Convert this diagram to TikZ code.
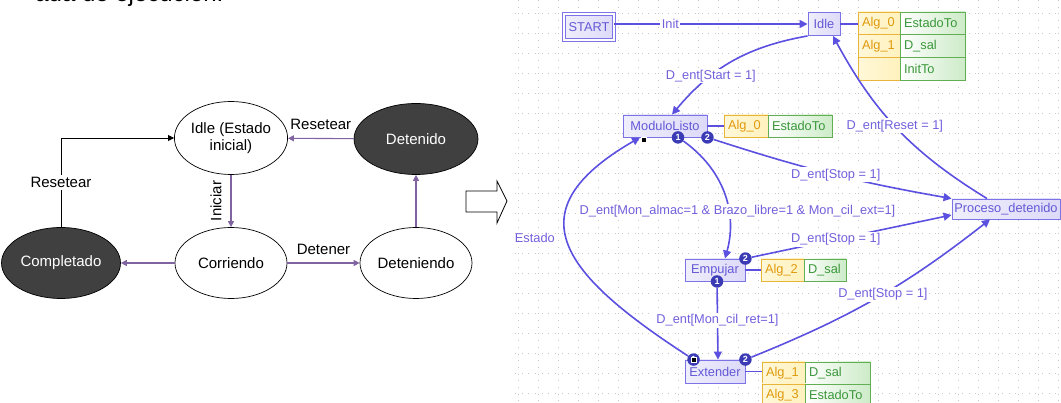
\documentclass[tikz,border=0pt]{standalone}
\usepackage{fontspec}
\setmainfont{Liberation Sans}
\usetikzlibrary{shapes.geometric,arrows.meta,positioning}

\definecolor{purp}{HTML}{8064A2}
\definecolor{darkst}{HTML}{404040}
\definecolor{stline}{HTML}{7C74E6}
\definecolor{stfill}{HTML}{DCDAF8}
\definecolor{sttext}{HTML}{6558D6}
\definecolor{trline}{HTML}{5B50E0}
\definecolor{lbtext}{HTML}{7260DC}
\definecolor{ylline}{HTML}{E8B53A}
\definecolor{ylfill}{HTML}{FFF2BE}
\definecolor{yltext}{HTML}{E09A0C}
\definecolor{gcline}{HTML}{62AE52}
\definecolor{gcfill}{HTML}{CDEBC8}
\definecolor{gctext}{HTML}{3B983B}
\definecolor{bdfill}{HTML}{3B3BB5}
\definecolor{gridc}{HTML}{C8C8C8}

\begin{document}
\begin{tikzpicture}[%
    x=1pt, y=1pt,               % one unit is one pixel of the screenshot
    node distance=0pt,          % table cells sit flush against each other
    ]
% -------------------------------------------------
% Styles
\tikzset{
  % left: state chart
  ell/.style={draw, ellipse, line width=0.7pt, minimum width=112pt, minimum height=71pt,
    inner sep=0pt, align=center, font=\fontsize{15}{17}\selectfont},
  dark/.style={ell, fill=darkst, text=white},
  pu/.style={-{Triangle[length=6pt,width=6pt]}, draw=purp, line width=1.1pt},
  bk/.style={-{Triangle[length=6pt,width=6pt]}, draw=black, line width=0.8pt},
  tl/.style={font=\fontsize{15}{17}\selectfont},
  % right: editor chart
  st/.style={draw=stline, left color=stfill!45!white, right color=stfill, line width=0.9pt,
    text=sttext, minimum height=22pt, inner sep=0pt, font=\fontsize{12.8}{14}\selectfont},
  cell/.style={line width=0.9pt, inner xsep=4pt, inner ysep=0pt, outer sep=0pt,
    align=left, font=\fontsize{12.8}{14}\selectfont},
  yc/.style={cell, draw=ylline, left color=ylfill!60!white, right color=ylfill, text=yltext, text width=#1},
  gc/.style={cell, draw=gcline, left color=white, right color=gcfill, text=gctext, text width=#1},
  tr/.style={-{Triangle[length=8pt,width=8pt]}, draw=trline, line width=1.6pt},
  ln/.style={draw=trline, line width=1.6pt},
  lb/.style={fill=white, text=lbtext, inner sep=1.5pt, font=\fontsize{12.8}{14}\selectfont},
  bd/.style={circle, fill=bdfill, text=white, inner sep=0pt, minimum size=12.5pt,
    font=\fontsize{9}{9}\selectfont\bfseries},
  sq/.style={draw=white, fill=black, minimum size=5pt, inner sep=0pt, line width=0.5pt},
  grd/.style={draw=gridc, line width=0.9pt, dash pattern=on 0.9pt off 5.77pt},
}
\useasboundingbox (0,0) rectangle (1061,-403);

% -------------------------------------------------
% Caption line cut off by the top edge
\node[anchor=base east, font=\fontsize{24}{28}\selectfont] (cap) at (227,-2) {ada de ejecución.};

% -------------------------------------------------
% Left: the states
\node[ell, minimum height=73pt] (idl) at (231,-138) {Idle (Estado\\inicial)};
\node[dark, minimum width=124pt] (dtd) at (416,-139) {Detenido};
\node[dark, minimum width=119pt] (cmp) at (61,-263) {Completado};
\node[ell] (cor) at (231,-263) {Corriendo};
\node[ell] (dtn) at (416,-263) {Deteniendo};

\draw[bk] (cmp.north) |- node[tl, pos=0.25, fill=white, inner sep=2pt] {Resetear} (idl.west); %Completado,Idle
\draw[pu] (idl) -- node[tl, rotate=90, anchor=south, inner xsep=2pt, inner ysep=9pt] {Iniciar} (cor); %Idle,Corriendo
\draw[pu] (cor) -- (cmp);                                                                  %Corriendo,Completado
\draw[pu] (cor) -- node[tl, above, yshift=4pt] {Detener} (dtn);                            %Corriendo,Deteniendo
\draw[pu] (dtn) -- (dtd);                                                                  %Deteniendo,Detenido
\draw[pu] (dtd) -- node[tl, above, yshift=5pt] {Resetear} (idl);                           %Detenido,Idle

% Block arrow between the two charts
\draw[line width=0.8pt] (466,-191) -- (497,-191) -- (497,-181) -- (507,-201)
  -- (497,-223) -- (497,-212) -- (466,-212) -- cycle;

% -------------------------------------------------
% Right: dotted editor grid
\foreach \y in {13,33,...,393}
  \draw[grd] (515,-\y) -- (1061,-\y);
\foreach \x in {518,538,...,1058}
  \draw[grd] (\x,0) -- (\x,-403);

% the states
\node[st, double=white, double distance=1.8pt, minimum width=50pt, minimum height=26pt] (start) at (589,-27) {START};
\node[st, minimum width=32pt, minimum height=23pt] (idle) at (824,-24) {Idle};
\node[st, minimum width=84pt] (ml) at (665,-126) {ModuloListo};
\node[st, minimum width=60pt] (em) at (715,-270) {Empujar};
\node[st, minimum width=60pt, minimum height=23pt] (ex) at (715,-371.5) {Extender};
\node[st, minimum width=108pt, minimum height=20pt] (pd) at (1006,-209) {Proceso\_detenido};

% action tables
\node[yc=34pt, minimum height=22.7pt, anchor=north west] (ia0) at (858,-12) {Alg\_0};
\node[gc=57pt, minimum height=22.7pt, right=of ia0] (ie0) {EstadoTo};
\node[yc=34pt, minimum height=22.7pt, below=of ia0] (ia1) {Alg\_1};
\node[gc=57pt, minimum height=22.7pt, right=of ia1] (ie1) {D\_sal};
\node[yc=34pt, minimum height=22.7pt, below=of ia1] (ia2) {};
\node[gc=57pt, minimum height=22.7pt, right=of ia2] (ie2) {InitTo};

\node[yc=36pt, minimum height=22pt, anchor=north west] (ma0) at (724,-115) {Alg\_0};
\node[gc=56pt, minimum height=22pt, right=of ma0] (me0) {EstadoTo};

\node[yc=35pt, minimum height=22pt, anchor=north west] (ea0) at (761,-259) {Alg\_2};
\node[gc=34pt, minimum height=22pt, right=of ea0] (ee0) {D\_sal};

\node[yc=35pt, minimum height=22pt, anchor=north west] (xa0) at (762,-362) {Alg\_1};
\node[gc=57pt, minimum height=22pt, right=of xa0] (xe0) {D\_sal};
\node[yc=35pt, minimum height=22pt, below=of xa0] (xa1) {Alg\_3};
\node[gc=57pt, minimum height=22pt, right=of xa1] (xe1) {EstadoTo};

\draw[ln] (idle.east) -- (idle.east -| ia0.west);
\draw[ln] (ml.east) -- (ml.east -| ma0.west);
\draw[ln] (em.east) -- (em.east -| ea0.west);
\draw[ln] (ex.east) -- (ex.east -| xa0.west);

% exit badges
\node[bd] (ml1) at ([xshift=13pt]ml.south) {1};
\node[bd] (ml2) at (ml.south east) {2};
\node[bd] (em2) at (em.north east) {2};
\node[bd] (em1) at ([xshift=2pt]em.south) {1};
\node[bd] (ex1) at ([xshift=9pt]ex.north west) {1};
\node[bd] (ex2) at (ex.north east) {2};

% transitions
\draw[tr] (start.east |- idle) -- node[lb, pos=0.29] {Init} (idle);                              %START,Idle
\draw[tr] (idle.south west) to[bend right=20] node[lb, pos=0.67] {D\_ent[Start = 1]} ([xshift=7pt]ml.north); %Idle,ModuloListo
\draw[tr] (ml2) to[bend right=4] node[lb, pos=0.52] {D\_ent[Stop = 1]} (pd.north west);         %ModuloListo,Proceso_detenido
\draw[tr] (ml1) to[bend left=35] node[lb, pos=0.65, xshift=9pt]
  {D\_ent[Mon\_almac=1 \& Brazo\_libre=1 \& Mon\_cil\_ext=1]} ([xshift=10pt]em.north);          %ModuloListo,Empujar
\draw[tr] (em2) -- node[lb, pos=0.42] {D\_ent[Stop = 1]} ([yshift=-6pt]pd.west);                %Empujar,Proceso_detenido
\draw[tr] (em1) -- node[lb, pos=0.45] {D\_ent[Mon\_cil\_ret=1]} ([xshift=3pt]ex.north);          %Empujar,Extender
\draw[tr] (ex2) to[bend right=8] node[lb, pos=0.53] {D\_ent[Stop = 1]} ([xshift=-16pt]pd.south); %Extender,Proceso_detenido
\draw[tr] (ex1) to[out=147, in=210, looseness=1.7] node[pos=0.53, left=8pt, text=lbtext,
  font=\fontsize{12.8}{14}\selectfont] {Estado} ([xshift=-25pt]ml.south);                        %Extender,ModuloListo
\draw[tr] ([xshift=-19pt]pd.north) to[bend left=15] node[lb, pos=0.52] {D\_ent[Reset = 1]} ([xshift=9pt]idle.south); %Proceso_detenido,Idle

% entry markers
\node[sq] (mlin) at ([xshift=-21pt,yshift=-2pt]ml.south) {};
\node[sq] (exin) at (ex1) {};

% -------------------------------------------------
\end{tikzpicture}
\end{document}
